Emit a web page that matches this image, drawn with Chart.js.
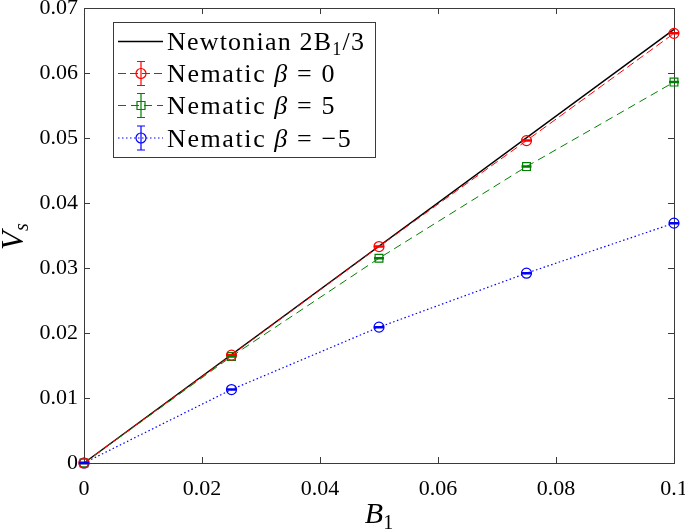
<!DOCTYPE html>
<html>
<head>
<meta charset="utf-8">
<script src="https://cdn.jsdelivr.net/npm/chart.js@4.4.0/dist/chart.umd.min.js"></script>
<style>
  html, body { margin: 0; padding: 0; background: #fff; }
  #wrap { width: 685px; height: 530px; position: relative; }
</style>
</head>
<body>
<div id="wrap"><canvas id="c" width="685" height="530"></canvas></div>
<script>
// ---- data ----
const B1 = [0, 0.025, 0.05, 0.075, 0.1];
const newtonianX = [0, 0.1];
const newtonianY = [0, 0.0667];          // 2*B1/3
const nematicBeta0 = [0, 0.0166, 0.0333, 0.0496, 0.0661];
const nematicBeta5 = [0, 0.0164, 0.0315, 0.0456, 0.0586];
const nematicBetaM5 = [0, 0.0113, 0.0209, 0.0292, 0.0369];
const errBeta0 = [0.0001, 0.0001, 0.0001, 0.0001, 0.0001];
const errBeta5 = [0.0001, 0.0001, 0.0001, 0.0001, 0.0001];
const errBetaM5 = [0.0001, 0.0001, 0.0001, 0.0001, 0.0001];
const xTicks = [0, 0.02, 0.04, 0.06, 0.08, 0.1];
const xTickLabels = ['0', '0.02', '0.04', '0.06', '0.08', '0.1'];
const yTicks = [0, 0.01, 0.02, 0.03, 0.04, 0.05, 0.06, 0.07];
const yTickLabels = ['0', '0.01', '0.02', '0.03', '0.04', '0.05', '0.06', '0.07'];
const seriesNames = ['Newtonian', 'Nematic β = 0', 'Nematic β = 5', 'Nematic β = −5'];

const SERIF = "'Liberation Serif', 'DejaVu Serif', serif";
const AXIS_COLOR = '#3a3a3a';

const pts = (xs, ys) => xs.map((x, i) => ({ x: x, y: ys[i] }));

const datasets = [
  { label: seriesNames[1], data: pts(B1, nematicBeta0), err: errBeta0, showLine: true,
    borderColor: '#ff0000', borderWidth: 1, borderDash: [8, 4], pointStyle: 'circle',
    pointRadius: 5, pointBorderColor: '#ff0000', pointBackgroundColor: 'rgba(0,0,0,0)', pointBorderWidth: 1.2, clip: false },
  { label: seriesNames[2], data: pts(B1, nematicBeta5), err: errBeta5, showLine: true,
    borderColor: '#008000', borderWidth: 1, borderDash: [8, 5], pointStyle: 'rect',
    pointRadius: 5.5, pointBorderColor: '#008000', pointBackgroundColor: 'rgba(0,0,0,0)', pointBorderWidth: 1.2, clip: false },
  { label: seriesNames[3], data: pts(B1, nematicBetaM5), err: errBetaM5, showLine: true,
    borderColor: '#0000ff', borderWidth: 1.2, borderDash: [1.5, 2.5], pointStyle: 'circle',
    pointRadius: 5, pointBorderColor: '#0000ff', pointBackgroundColor: 'rgba(0,0,0,0)', pointBorderWidth: 1.2, clip: false },
  { label: seriesNames[0], data: pts(newtonianX, newtonianY), showLine: true,
    borderColor: '#000000', borderWidth: 1.5, pointRadius: 0, clip: false }
];

function drawRuns(ctx, runs, x, y) {
  let cx = x;
  runs.forEach(r => {
    ctx.font = r.font;
    ctx.fillText(r.text, cx, y + (r.dy || 0));
    cx += ctx.measureText(r.text).width;
  });
}

const framePlugin = {
  id: 'frame',
  beforeDatasetsDraw(chart) {
    const { ctx, chartArea: a, scales } = chart;
    ctx.save();
    ctx.strokeStyle = AXIS_COLOR;
    ctx.lineWidth = 1;
    ctx.strokeRect(Math.round(a.left) + 0.5, Math.round(a.top) + 0.5,
                   Math.round(a.right - a.left), Math.round(a.bottom - a.top));
    const tl = 6;
    ctx.beginPath();
    xTicks.forEach(v => {
      const px = Math.round(scales.x.getPixelForValue(v)) + 0.5;
      ctx.moveTo(px, a.bottom); ctx.lineTo(px, a.bottom - tl);
      ctx.moveTo(px, a.top); ctx.lineTo(px, a.top + tl);
    });
    yTicks.forEach(v => {
      const py = Math.round(scales.y.getPixelForValue(v)) + 0.5;
      ctx.moveTo(a.left, py); ctx.lineTo(a.left + tl, py);
      ctx.moveTo(a.right, py); ctx.lineTo(a.right - tl, py);
    });
    ctx.stroke();
    ctx.restore();
  },
  afterDatasetsDraw(chart) {
    const { ctx, scales } = chart;
    ctx.save();
    // error bars (very small) drawn as caps across markers
    chart.data.datasets.forEach(ds => {
      if (!ds.err) return;
      ctx.strokeStyle = ds.borderColor;
      ctx.lineWidth = 1.2;
      ds.data.forEach((p, i) => {
        const px = scales.x.getPixelForValue(p.x);
        const y1 = scales.y.getPixelForValue(p.y - ds.err[i]);
        const y2 = scales.y.getPixelForValue(p.y + ds.err[i]);
        const yc = scales.y.getPixelForValue(p.y);
        ctx.beginPath();
        ctx.moveTo(px, y1); ctx.lineTo(px, y2);
        ctx.moveTo(px - 5, y1); ctx.lineTo(px + 5, y1);
        ctx.moveTo(px - 5, y2); ctx.lineTo(px + 5, y2);
        ctx.moveTo(px - 5, yc); ctx.lineTo(px + 5, yc);
        ctx.stroke();
      });
    });

    // legend
    const L = { x: 113.5, y: 22.5, w: 262, h: 135 };
    ctx.fillStyle = '#fff';
    ctx.fillRect(L.x, L.y, L.w, L.h);
    ctx.strokeStyle = AXIS_COLOR;
    ctx.lineWidth = 1;
    ctx.strokeRect(L.x, L.y, L.w, L.h);
    const rows = [41.5, 73.5, 105.5, 138];
    const lx0 = 118, lx1 = 163, mx = 141, tx = 167;
    const F = "26px " + SERIF, FI = "italic 26px " + SERIF, FS = "18px " + SERIF;
    const legendItems = [
      { color: '#000', dash: [], width: 1.5, marker: null,
        runs: [{ text: 'Newtonian 2B', font: F }, { text: '1', font: FS, dy: 5 }, { text: '/3', font: F }] },
      { color: '#ff0000', dash: [8, 4], width: 1, marker: 'circle',
        runs: [{ text: 'Nematic ', font: F }, { text: 'β', font: FI }, { text: ' = 0', font: F }] },
      { color: '#008000', dash: [8, 5], width: 1, marker: 'rect',
        runs: [{ text: 'Nematic ', font: F }, { text: 'β', font: FI }, { text: ' = 5', font: F }] },
      { color: '#0000ff', dash: [1.5, 2.5], width: 1.2, marker: 'circle',
        runs: [{ text: 'Nematic ', font: F }, { text: 'β', font: FI }, { text: ' = −5', font: F }] }
    ];
    legendItems.forEach((it, i) => {
      const cy = rows[i];
      ctx.strokeStyle = it.color;
      ctx.lineWidth = it.width;
      ctx.setLineDash(it.dash);
      ctx.beginPath(); ctx.moveTo(lx0, cy); ctx.lineTo(lx1, cy); ctx.stroke();
      ctx.setLineDash([]);
      if (it.marker) {
        ctx.lineWidth = 1.2;
        ctx.fillStyle = '#fff';
        ctx.beginPath();
        ctx.moveTo(mx, cy - 12); ctx.lineTo(mx, cy + 12);
        ctx.moveTo(mx - 4, cy - 12); ctx.lineTo(mx + 4, cy - 12);
        ctx.moveTo(mx - 4, cy + 12); ctx.lineTo(mx + 4, cy + 12);
        ctx.stroke();
        ctx.beginPath();
        if (it.marker === 'circle') ctx.arc(mx, cy, 5, 0, Math.PI * 2);
        else ctx.rect(mx - 4, cy - 4, 8, 8);
        ctx.stroke();
      }
      ctx.fillStyle = '#000';
      ctx.textBaseline = 'alphabetic';
      ctx.textAlign = 'left';
      ctx.letterSpacing = i === 0 ? '1.2px' : '1.6px';
      drawRuns(ctx, it.runs, tx, cy + 8.5);
      ctx.letterSpacing = '0px';
    });

    // axis titles
    ctx.fillStyle = '#000';
    ctx.textAlign = 'left';
    ctx.textBaseline = 'alphabetic';
    ctx.font = "italic 30px " + SERIF;
    const wB = ctx.measureText('B').width;
    ctx.font = "20px " + SERIF;
    const w1 = ctx.measureText('1').width;
    const bx = (scales.x.left + scales.x.right) / 2 - (wB + w1) / 2;
    drawRuns(ctx, [{ text: 'B', font: "italic 30px " + SERIF }, { text: '1', font: "20px " + SERIF, dy: 6 }], bx, 523);

    ctx.translate(23, 0);
    ctx.rotate(-Math.PI / 2);
    drawRuns(ctx, [{ text: 'V', font: "italic 31px " + SERIF }, { text: 's', font: "italic 20px " + SERIF, dy: 5 }], -250, 0);
    ctx.restore();
  }
};

function noPad(s) { s.paddingTop = 0; s.paddingBottom = 0; s.paddingLeft = 0; s.paddingRight = 0; }

new Chart(document.getElementById('c'), {
  type: 'scatter',
  data: { datasets: datasets },
  options: {
    responsive: false,
    animation: false,
    events: [],
    layout: { padding: { top: 8, right: 11, left: 0, bottom: 0 } },
    plugins: { legend: { display: false }, tooltip: { enabled: false } },
    scales: {
      x: {
        type: 'linear', min: 0, max: 0.1,
        grid: { display: false, drawTicks: false },
        border: { display: false },
        afterBuildTicks(s) { s.ticks = xTicks.map(v => ({ value: v })); },
        afterFit(s) { s.height = 67; noPad(s); },
        ticks: { color: '#000', font: { family: SERIF, size: 22 }, padding: 13,
                 maxRotation: 0, autoSkip: false,
                 callback: (v, i) => xTickLabels[i] }
      },
      y: {
        type: 'linear', min: 0, max: 0.07,
        grid: { display: false, drawTicks: false },
        border: { display: false },
        afterBuildTicks(s) { s.ticks = yTicks.map(v => ({ value: v })); },
        afterFit(s) { s.width = 84; noPad(s); },
        ticks: { color: '#000', font: { family: SERIF, size: 22 }, padding: 6,
                 autoSkip: false,
                 callback: (v, i) => yTickLabels[i] }
      }
    }
  },
  plugins: [framePlugin]
});
</script>
</body>
</html>
